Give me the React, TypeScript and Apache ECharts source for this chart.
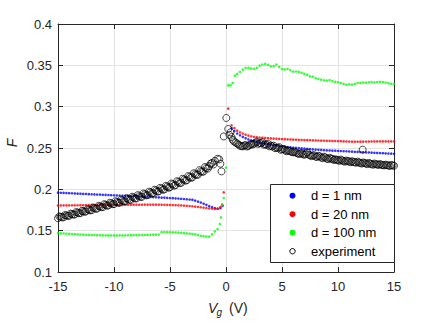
import React, { useEffect, useRef } from "react";
import * as echarts from "echarts";

// Gate voltage grid: main branches on a 0.25 V grid; experiment has an extra interleaved grid (offset 0.125 V)
const NEG_START = -15;
const POS_START = 1;
const STEP = 0.25;
const NEG_START_B = -14.875;
const POS_START_B = 1.125;

// ---- d = 1 nm (blue) ----
const blueNeg = [
  0.1960, 0.1958, 0.1957, 0.1955, 0.1953, 0.1952, 0.1950, 0.1948, 0.1947, 0.1945,
  0.1944, 0.1942, 0.1940, 0.1939, 0.1937, 0.1936, 0.1934, 0.1933, 0.1931, 0.1929,
  0.1928, 0.1926, 0.1925, 0.1923, 0.1921, 0.1920, 0.1918, 0.1917, 0.1915, 0.1914,
  0.1912, 0.1910, 0.1909, 0.1907, 0.1906, 0.1904, 0.1902, 0.1900, 0.1899, 0.1897,
  0.1895, 0.1893, 0.1891, 0.1889, 0.1886, 0.1883, 0.1880, 0.1877, 0.1874, 0.1864,
  0.1852, 0.1840, 0.1826, 0.1812, 0.1798, 0.1785, 0.1772,
];
const blueNearV = [-0.75, -0.5, -0.3, 0.5, 0.75];
const blueNear = [0.1765, 0.1772, 0.1800, 0.2740, 0.2705];
const bluePos = [
  0.2675, 0.2654, 0.2635, 0.2618, 0.2603, 0.2592, 0.2582, 0.2573, 0.2565, 0.2558,
  0.2552, 0.2546, 0.2540, 0.2535, 0.2530, 0.2525, 0.2520, 0.2516, 0.2512, 0.2508,
  0.2505, 0.2502, 0.2498, 0.2495, 0.2492, 0.2489, 0.2486, 0.2484, 0.2481, 0.2479,
  0.2477, 0.2474, 0.2472, 0.2470, 0.2468, 0.2467, 0.2465, 0.2463, 0.2461, 0.2460,
  0.2458, 0.2456, 0.2454, 0.2453, 0.2451, 0.2449, 0.2447, 0.2446, 0.2444, 0.2442,
  0.2440, 0.2439, 0.2437, 0.2435, 0.2433, 0.2432, 0.2430,
];

// ---- d = 20 nm (red) ----
const redNeg = [
  0.1805, 0.1805, 0.1806, 0.1806, 0.1806, 0.1807, 0.1807, 0.1807, 0.1808, 0.1808,
  0.1808, 0.1809, 0.1809, 0.1809, 0.1810, 0.1810, 0.1810, 0.1810, 0.1811, 0.1811,
  0.1811, 0.1812, 0.1812, 0.1812, 0.1813, 0.1813, 0.1813, 0.1814, 0.1814, 0.1814,
  0.1814, 0.1815, 0.1815, 0.1815, 0.1815, 0.1815, 0.1814, 0.1814, 0.1813, 0.1812,
  0.1811, 0.1810, 0.1808, 0.1807, 0.1805, 0.1803, 0.1801, 0.1798, 0.1795, 0.1791,
  0.1787, 0.1783, 0.1779, 0.1774, 0.1770, 0.1767, 0.1764,
];
const redNearV = [-0.75, -0.5, -0.35, -0.2, 0.2, 0.5, 0.75];
const redNear = [0.1766, 0.1785, 0.1815, 0.1963, 0.2976, 0.2775, 0.2740];
const redPos = [
  0.2710, 0.2690, 0.2675, 0.2662, 0.2650, 0.2642, 0.2636, 0.2631, 0.2627, 0.2624,
  0.2621, 0.2619, 0.2616, 0.2614, 0.2612, 0.2610, 0.2608, 0.2606, 0.2605, 0.2603,
  0.2601, 0.2600, 0.2599, 0.2597, 0.2596, 0.2595, 0.2594, 0.2592, 0.2591, 0.2590,
  0.2589, 0.2588, 0.2587, 0.2586, 0.2585, 0.2584, 0.2583, 0.2582, 0.2580, 0.2579,
  0.2578, 0.2577, 0.2576, 0.2576, 0.2577, 0.2577, 0.2578, 0.2578, 0.2579, 0.2579,
  0.2580, 0.2580, 0.2580, 0.2580, 0.2580, 0.2580, 0.2580,
];

// ---- d = 100 nm (green) ----
const greenNeg = [
  0.1470, 0.1468, 0.1466, 0.1463, 0.1461, 0.1459, 0.1457, 0.1455, 0.1453, 0.1452,
  0.1450, 0.1449, 0.1448, 0.1447, 0.1446, 0.1445, 0.1444, 0.1443, 0.1443, 0.1442,
  0.1442, 0.1442, 0.1443, 0.1443, 0.1444, 0.1444, 0.1445, 0.1445, 0.1446, 0.1447,
  0.1447, 0.1448, 0.1449, 0.1450, 0.1451, 0.1452, 0.1453, 0.1482, 0.1483, 0.1482,
  0.1481, 0.1479, 0.1478, 0.1476, 0.1474, 0.1471, 0.1468, 0.1464, 0.1460, 0.1455,
  0.1447, 0.1438, 0.1433, 0.1430, 0.1428, 0.1455, 0.1490,
];
const greenNearV = [-0.75, -0.55, -0.45, -0.35, -0.2, 0.0, 0.2, 0.4, 0.6, 0.8];
const greenNear = [0.1520, 0.1580, 0.1660, 0.1810, 0.1895, 0.2262, 0.3258, 0.3260, 0.3287, 0.3375];
const greenPos = [
  0.3396, 0.3420, 0.3448, 0.3469, 0.3470, 0.3462, 0.3457, 0.3470, 0.3497, 0.3510,
  0.3517, 0.3505, 0.3488, 0.3490, 0.3510, 0.3480, 0.3455, 0.3450, 0.3457, 0.3440,
  0.3424, 0.3425, 0.3422, 0.3410, 0.3396, 0.3385, 0.3367, 0.3362, 0.3345, 0.3335,
  0.3327, 0.3318, 0.3315, 0.3320, 0.3310, 0.3300, 0.3295, 0.3287, 0.3275, 0.3266,
  0.3270, 0.3266, 0.3275, 0.3287, 0.3287, 0.3292, 0.3290, 0.3295, 0.3297, 0.3293,
  0.3298, 0.3300, 0.3297, 0.3292, 0.3285, 0.3277, 0.3272,
];

// ---- experiment (open circles) ----
const expNeg = [
  0.1650, 0.1668, 0.1663, 0.1684, 0.1681, 0.1700, 0.1696, 0.1718, 0.1713, 0.1735,
  0.1733, 0.1753, 0.1749, 0.1772, 0.1768, 0.1792, 0.1786, 0.1812, 0.1806, 0.1830,
  0.1822, 0.1846, 0.1838, 0.1864, 0.1855, 0.1882, 0.1872, 0.1900, 0.1890, 0.1917,
  0.1910, 0.1940, 0.1930, 0.1962, 0.1953, 0.1985, 0.1976, 0.2008, 0.2000, 0.2032,
  0.2025, 0.2060, 0.2052, 0.2088, 0.2080, 0.2118, 0.2110, 0.2150, 0.2145, 0.2182,
  0.2178, 0.2218, 0.2215, 0.2258, 0.2280, 0.2320, 0.2345,
];
const expNegB = [
  0.1672, 0.1660, 0.1688, 0.1678, 0.1706, 0.1694, 0.1724, 0.1710, 0.1740, 0.1728,
  0.1760, 0.1745, 0.1780, 0.1764, 0.1800, 0.1784, 0.1820, 0.1802, 0.1838, 0.1820,
  0.1856, 0.1838, 0.1874, 0.1855, 0.1893, 0.1872, 0.1910, 0.1890, 0.1930, 0.1908,
  0.1950, 0.1928, 0.1972, 0.1950, 0.1995, 0.1972, 0.2018, 0.1995, 0.2042, 0.2020,
  0.2070, 0.2045, 0.2098, 0.2075, 0.2128, 0.2105, 0.2160, 0.2140, 0.2195, 0.2175,
  0.2232, 0.2212, 0.2270, 0.2250, 0.2310, 0.2300,
];
const expNearV = [-0.75, -0.6, -0.5, -0.4, -0.2, 0.03, 0.2, 0.3, 0.4, 0.5, 0.6, 0.7, 0.85, 12.2];
const expNear = [0.2370, 0.2362, 0.2310, 0.2217, 0.2640, 0.2863, 0.2730, 0.2660, 0.2690, 0.2633, 0.2600, 0.2580, 0.2565, 0.2480];
const expPos = [
  0.2555, 0.2528, 0.2520, 0.2535, 0.2525, 0.2548, 0.2552, 0.2575, 0.2560, 0.2570,
  0.2545, 0.2552, 0.2530, 0.2528, 0.2505, 0.2510, 0.2485, 0.2478, 0.2470, 0.2460,
  0.2448, 0.2445, 0.2428, 0.2440, 0.2418, 0.2445, 0.2412, 0.2410, 0.2395, 0.2405,
  0.2385, 0.2395, 0.2372, 0.2380, 0.2368, 0.2362, 0.2352, 0.2360, 0.2340, 0.2348,
  0.2335, 0.2340, 0.2328, 0.2335, 0.2318, 0.2325, 0.2312, 0.2320, 0.2305, 0.2312,
  0.2300, 0.2305, 0.2292, 0.2298, 0.2288, 0.2295, 0.2285,
];
const expPosB = [
  0.2540, 0.2522, 0.2530, 0.2518, 0.2538, 0.2542, 0.2565, 0.2550, 0.2558, 0.2540,
  0.2538, 0.2520, 0.2518, 0.2498, 0.2500, 0.2478, 0.2488, 0.2462, 0.2468, 0.2450,
  0.2455, 0.2435, 0.2432, 0.2425, 0.2428, 0.2420, 0.2402, 0.2412, 0.2392, 0.2398,
  0.2378, 0.2385, 0.2365, 0.2372, 0.2355, 0.2358, 0.2345, 0.2350, 0.2335, 0.2342,
  0.2328, 0.2330, 0.2322, 0.2325, 0.2312, 0.2318, 0.2305, 0.2310, 0.2298, 0.2305,
  0.2295, 0.2298, 0.2290, 0.2292, 0.2283, 0.2290,
];

const seriesNames = ["d = 1 nm", "d = 20 nm", "d = 100 nm", "experiment"];
const seriesColors = ["#0000ff", "#ff0000", "#00ff00", "#000000"];
const xTickRange = { min: -15, max: 15, interval: 5 };
const yTickRange = { min: 0.1, max: 0.4, interval: 0.05 };

const FONT = "'Liberation Sans', Arial, Helvetica, sans-serif";
const AXIS_COLOR = "#262626";
const GRID_COLOR = "#e3e3e3";
const CLEAR = "rgba(0,0,0,0)";

function onGrid(start: number, vals: number[]): number[][] {
  return vals.map((v, i) => [start + STEP * i, v]);
}
function pairs(xs: number[], ys: number[]): number[][] {
  return xs.map((x, i) => [x, ys[i]]);
}
function build(neg: number[], nearV: number[], near: number[], pos: number[]) {
  return [...onGrid(NEG_START, neg), ...pairs(nearV, near), ...onGrid(POS_START, pos)];
}

export default function App() {
  const ref = useRef<HTMLDivElement>(null);
  useEffect(() => {
    if (!ref.current) return;
    const chart = echarts.init(ref.current, undefined, { renderer: "svg" });

    const axisCommon = {
      type: "value" as const,
      axisLine: { show: true, onZero: false, lineStyle: { color: AXIS_COLOR, width: 1 } },
      axisTick: { show: true, inside: true, length: 5, lineStyle: { color: AXIS_COLOR, width: 1 } },
    };

    const dotSeries = (name: string, color: string, data: number[][]) => ({
      name,
      type: "scatter",
      data,
      symbol: "circle",
      symbolSize: 2.6,
      itemStyle: { color },
      silent: true,
      z: 2,
    });

    const expData = [
      ...build(expNeg, expNearV, expNear, expPos),
      ...onGrid(NEG_START_B, expNegB),
      ...onGrid(POS_START_B, expPosB),
    ];

    // legend drawn as graphic (box, markers, labels), above the data
    const LZ = 50;
    const rowY = [195.7, 214.2, 232.7, 251.2];
    const legendEls: any[] = [
      {
        type: "rect",
        z: LZ,
        shape: { x: 270.5, y: 184.5, width: 124, height: 78 },
        style: { fill: "#ffffff", stroke: AXIS_COLOR, lineWidth: 1 },
      },
    ];
    seriesNames.forEach((name, i) => {
      const hollow = i === 3;
      legendEls.push({
        type: "circle",
        z: LZ + 1,
        shape: { cx: 292.5, cy: rowY[i], r: hollow ? 2.7 : 3 },
        style: hollow
          ? { fill: CLEAR, stroke: seriesColors[i], lineWidth: 1 }
          : { fill: seriesColors[i] },
      });
      legendEls.push({
        type: "text",
        z: LZ + 1,
        x: 311,
        y: rowY[i],
        style: {
          text: name,
          fontSize: 13,
          fontFamily: FONT,
          fill: "#000000",
          align: "left",
          verticalAlign: "middle",
        },
      });
    });

    chart.setOption({
      animation: false,
      backgroundColor: "#ffffff",
      grid: { left: 58, right: 42, top: 24, bottom: 55, containLabel: false },
      xAxis: [
        {
          ...axisCommon,
          ...xTickRange,
          position: "bottom",
          axisLabel: { color: AXIS_COLOR, fontSize: 13, fontFamily: FONT, margin: 8 },
          splitLine: { show: true, lineStyle: { color: GRID_COLOR, width: 1 } },
        },
        {
          ...axisCommon,
          ...xTickRange,
          position: "top",
          axisLabel: { show: false },
          splitLine: { show: false },
        },
      ],
      yAxis: [
        {
          ...axisCommon,
          ...yTickRange,
          position: "left",
          axisLabel: {
            color: AXIS_COLOR,
            fontSize: 13,
            fontFamily: FONT,
            margin: 6,
            formatter: (v: number) => String(parseFloat(v.toFixed(2))),
          },
          splitLine: { show: true, lineStyle: { color: GRID_COLOR, width: 1 } },
        },
        {
          ...axisCommon,
          ...yTickRange,
          position: "right",
          axisLabel: { show: false },
          splitLine: { show: false },
        },
      ],
      series: [
        dotSeries(seriesNames[0], seriesColors[0], build(blueNeg, blueNearV, blueNear, bluePos)),
        dotSeries(seriesNames[1], seriesColors[1], build(redNeg, redNearV, redNear, redPos)),
        dotSeries(seriesNames[2], seriesColors[2], build(greenNeg, greenNearV, greenNear, greenPos)),
        {
          name: seriesNames[3],
          type: "scatter",
          data: expData,
          symbol: "circle",
          symbolSize: 7,
          itemStyle: { color: CLEAR, borderColor: seriesColors[3], borderWidth: 0.9 },
          silent: true,
          z: 3,
        },
      ],
      graphic: [
        {
          type: "text",
          x: 12,
          y: 143,
          rotation: Math.PI / 2,
          style: {
            text: "F",
            fontSize: 14,
            fontStyle: "italic",
            fontFamily: FONT,
            fill: AXIS_COLOR,
            align: "center",
            verticalAlign: "middle",
          },
        },
        {
          type: "text",
          x: 208,
          y: 308,
          style: {
            text: "V",
            fontSize: 14,
            fontStyle: "italic",
            fontFamily: FONT,
            fill: AXIS_COLOR,
            align: "left",
            verticalAlign: "middle",
          },
        },
        {
          type: "text",
          x: 216.5,
          y: 312,
          style: {
            text: "g",
            fontSize: 10,
            fontStyle: "italic",
            fontFamily: FONT,
            fill: AXIS_COLOR,
            align: "left",
            verticalAlign: "middle",
          },
        },
        {
          type: "text",
          x: 229,
          y: 308,
          style: {
            text: "(V)",
            fontSize: 14,
            fontFamily: FONT,
            fill: AXIS_COLOR,
            align: "left",
            verticalAlign: "middle",
          },
        },
        ...legendEls,
      ],
    });
    return () => chart.dispose();
  }, []);

  return (
    <div
      ref={ref}
      style={{ position: "fixed", left: 0, top: 0, width: 436, height: 327, background: "#fff" }}
    />
  );
}
